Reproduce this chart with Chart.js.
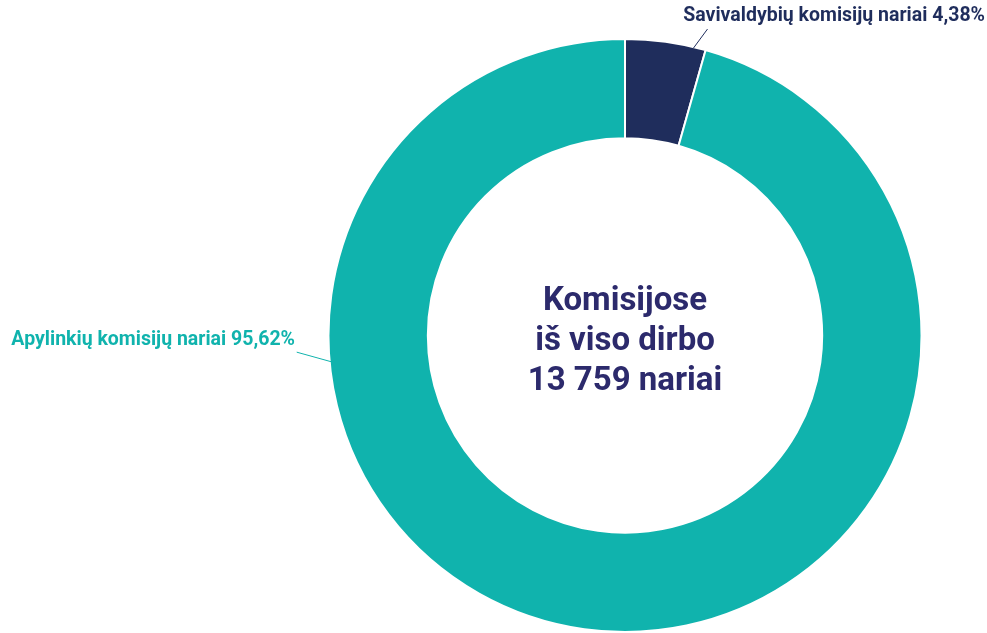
<!DOCTYPE html>
<html>
<head>
<meta charset="utf-8">
<script src="https://cdn.jsdelivr.net/npm/chart.js@4"></script>
<style>
  html, body { margin: 0; padding: 0; background: #fff; }
  #wrap { width: 987px; height: 633px; position: relative; }
</style>
</head>
<body>
<div id="wrap"><canvas id="chart"></canvas></div>
<script>
const labels = ['Savivaldybių komisijų nariai', 'Apylinkių komisijų nariai'];
const shares = [4.38, 95.62];
const colors = ['#1f2d5c', '#10b3ad'];
const centerLines = ['Komisijose', 'iš viso dirbo', '13 759 nariai'];

// labels with leader lines, placed relative to the arc geometry
const labelPlugin = {
  id: 'sliceLabels',
  afterDraw(chart) {
    const ctx = chart.ctx;
    const arcs = chart.getDatasetMeta(0).data;
    const a0 = arcs[0];
    const cx = a0.x, cy = a0.y, r = a0.outerRadius;
    ctx.save();
    ctx.font = 'bold 19.5px Roboto';
    ctx.textBaseline = 'middle';

    // small slice: line from arc edge up to label
    const ang0 = a0.startAngle + (a0.endAngle - a0.startAngle) * 0.85;
    const p0 = { x: cx + Math.cos(ang0) * (r - 1), y: cy + Math.sin(ang0) * (r - 1) };
    ctx.strokeStyle = colors[0];
    ctx.lineWidth = 1;
    ctx.beginPath();
    ctx.moveTo(p0.x, p0.y);
    ctx.lineTo(p0.x + 14, p0.y - 19);
    ctx.stroke();
    ctx.fillStyle = colors[0];
    ctx.textAlign = 'right';
    ctx.fillText(labels[0] + ' ' + shares[0].toFixed(2).replace('.', ',') + '%', 985, 16);

    // big slice: line from label to arc edge on the left
    const ang1 = Math.PI - 0.09;
    const p1 = { x: cx + Math.cos(ang1) * r, y: cy + Math.sin(ang1) * r };
    ctx.strokeStyle = colors[1];
    ctx.beginPath();
    ctx.moveTo(p1.x + 3, p1.y);
    ctx.lineTo(p1.x - 33, p1.y - 10);
    ctx.stroke();
    ctx.fillStyle = colors[1];
    ctx.textAlign = 'right';
    ctx.fillText(labels[1] + ' ' + shares[1].toFixed(2).replace('.', ',') + '%', 295, 340);

    // center text
    ctx.fillStyle = '#2c2a6c';
    ctx.font = 'bold 33px Roboto';
    ctx.textAlign = 'center';
    centerLines.forEach((t, i) => {
      ctx.fillText(t, cx, cy - 34 + i * 40);
    });
    ctx.restore();
  }
};

new Chart(document.getElementById('chart'), {
  type: 'doughnut',
  data: {
    labels: labels,
    datasets: [{
      data: shares,
      backgroundColor: colors,
      borderColor: '#ffffff',
      borderWidth: 2
    }]
  },
  options: {
    responsive: true,
    maintainAspectRatio: false,
    animation: false,
    cutout: '66.5%',
    layout: { padding: { left: 326, right: 63, top: 38, bottom: -3 } },
    plugins: {
      legend: { display: false },
      tooltip: { enabled: false }
    }
  },
  plugins: [labelPlugin]
});
</script>
</body>
</html>
